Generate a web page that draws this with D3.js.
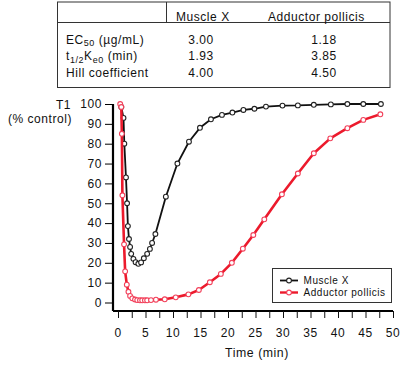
<!DOCTYPE html>
<html>
<head>
<meta charset="utf-8">
<script src="https://cdn.jsdelivr.net/npm/d3@7"></script>
<style>
  body { margin: 0; background: #fff; }
  svg { font-family: "Liberation Sans", Arial, sans-serif; }
  svg text { letter-spacing: 0.55px; fill: #111; }
</style>
</head>
<body>
<div id="chart"></div>
<script>
// dati
const muscleTime  = [0.6, 1.0, 1.15, 1.45, 1.65, 1.8, 2.0, 2.2, 2.4, 2.8, 3.2, 3.7, 4.2, 4.7, 5.3, 5.8, 6.2, 6.8, 8.7, 10.8, 12.9, 14.9, 16.9, 18.9, 20.8, 22.8, 24.8, 26.9, 29.9, 32.7, 35.6, 38.7, 41.7, 44.6, 47.8];
const muscleValue = [98.5, 93, 80, 63, 50, 38.5, 32, 28, 24.5, 22, 20.3, 19.5, 20.2, 22.3, 24.5, 27, 30, 34.5, 53.3, 70, 81, 88, 92.3, 94.5, 95.7, 97, 97.6, 98.7, 99.2, 99.3, 99.6, 99.8, 100, 100, 100];
const adductorTime  = [0.4, 0.6, 0.7, 0.8, 1.1, 1.3, 1.6, 1.9, 2.2, 2.6, 3.1, 3.5, 4.0, 4.4, 4.9, 5.3, 6.0, 6.9, 8.5, 10.5, 12.8, 14.7, 16.7, 18.7, 20.7, 22.7, 24.6, 26.6, 29.8, 32.7, 35.6, 38.6, 41.7, 44.6, 47.7];
const adductorValue = [100, 98.5, 85, 54, 29.3, 15.7, 9, 5.4, 3.3, 2.1, 1.5, 1.2, 1.1, 1.1, 1.1, 1.1, 1.2, 1.4, 1.6, 2.6, 4.1, 6.3, 10.2, 14.4, 20, 27.1, 34, 41.9, 54.5, 65, 75.2, 82.7, 87.8, 92, 94.8];

const xTicks = d3.range(0, 50.01, 2.5);
const xLabels = [0, 5, 10, 15, 20, 25, 30, 35, 40, 45, 50];
const yLabels = [0, 10, 20, 30, 40, 50, 60, 70, 80, 90, 100];

const tableHeader = ["Muscle X", "Adductor pollicis"];
const tableRows = [
  { name: [["EC", false], ["50", true], [" (\u00b5g/mL)", false]], vals: ["3.00", "1.18"] },
  { name: [["t", false], ["1/2", true], ["K", false], ["e0", true], [" (min)", false]], vals: ["1.93", "3.85"] },
  { name: [["Hill coefficient", false]], vals: ["4.00", "4.50"] }
];

const seriesNames = ["Muscle X", "Adductor pollicis"];
const seriesColors = ["#111", "#ec1a2c"];
const markerColors = ["#222", "#f2405a"];

const width = 406, height = 366;
const svg = d3.select("#chart").append("svg")
  .attr("width", width).attr("height", height);

// scale
const x = d3.scaleLinear().domain([0, 50]).range([118, 393]);
const y = d3.scaleLinear().domain([0, 100]).range([302.5, 104]);

// assi (staccati dall'area dati)
const xAxis = svg.append("g")
  .attr("transform", "translate(0,311)")
  .call(d3.axisBottom(x).tickValues(xTicks).tickSize(7).tickFormat(""));
xAxis.select(".domain").attr("d", `M113,0H${x(50)}`).attr("stroke-width", 2.2);
xAxis.selectAll(".tick line").attr("stroke-width", 1).attr("stroke", "#111");

svg.append("g").selectAll("text")
  .data(xLabels).join("text")
  .attr("x", d => x(d)).attr("y", 337)
  .attr("text-anchor", "middle")
  .attr("font-size", 12).text(d => d);

const yAxis = svg.append("g")
  .attr("transform", "translate(113,0)")
  .call(d3.axisLeft(y).tickValues(yLabels).tickSize(8).tickPadding(3));
yAxis.select(".domain").attr("d", `M0,${y(100)}V311`).attr("stroke-width", 2.2);
yAxis.selectAll(".tick line").attr("stroke-width", 1);
yAxis.selectAll(".tick text").attr("font-size", 12)
  .attr("font-family", "Liberation Sans, Arial, sans-serif");

svg.append("text").attr("x", 71).attr("y", 108.5)
  .attr("text-anchor", "end").attr("font-size", 12).text("T1");
svg.append("text").attr("x", 72).attr("y", 122.5)
  .attr("text-anchor", "end").attr("font-size", 12).text("(% control)");
svg.append("text").attr("x", 257).attr("y", 357)
  .attr("text-anchor", "middle").attr("font-size", 12.3).text("Time (min)");

// serie
const series = [
  d3.zip(muscleTime, muscleValue),
  d3.zip(adductorTime, adductorValue)
];
const line = d3.line().x(d => x(d[0])).y(d => y(d[1]));

series.forEach((pts, i) => {
  const g = svg.append("g");
  g.append("path")
    .datum(pts)
    .attr("fill", "none")
    .attr("stroke", seriesColors[i])
    .attr("stroke-width", i === 0 ? 1.8 : 2.6)
    .attr("stroke-linejoin", "round")
    .attr("d", line);
  g.selectAll("circle")
    .data(pts).join("circle")
    .attr("cx", d => x(d[0])).attr("cy", d => y(d[1]))
    .attr("r", 2.4)
    .attr("fill", "#fff")
    .attr("stroke", markerColors[i])
    .attr("stroke-width", 1.1);
});

// legenda
const legend = svg.append("g");
legend.append("rect")
  .attr("x", 272.5).attr("y", 268.5).attr("width", 119).attr("height", 34)
  .attr("fill", "#fff").attr("stroke", "#333").attr("stroke-width", 1);
seriesNames.forEach((name, i) => {
  const ly = 280.5 + i * 12;
  legend.append("line")
    .attr("x1", 280).attr("x2", 298).attr("y1", ly).attr("y2", ly)
    .attr("stroke", seriesColors[i]).attr("stroke-width", i === 0 ? 1.8 : 2.4);
  legend.append("circle")
    .attr("cx", 289).attr("cy", ly).attr("r", 2.4)
    .attr("fill", "#fff").attr("stroke", markerColors[i]).attr("stroke-width", 1.1);
  legend.append("text")
    .attr("x", 303.5).attr("y", ly + 3.6)
    .attr("font-size", 10).text(name);
});

// tabella
const table = svg.append("g");
table.append("rect")
  .attr("x", 57.5).attr("y", 2).attr("width", 332.5).attr("height", 85.5)
  .attr("fill", "none").attr("stroke", "#333").attr("stroke-width", 1);
table.append("line")
  .attr("x1", 57.5).attr("x2", 390).attr("y1", 22.5).attr("y2", 22.5)
  .attr("stroke", "#333");
table.append("line")
  .attr("x1", 166.5).attr("x2", 166.5).attr("y1", 2).attr("y2", 22.5)
  .attr("stroke", "#333");

const headerX = [176, 268];
const valueX = [201, 324];
tableHeader.forEach((h, i) => {
  table.append("text").attr("x", headerX[i]).attr("y", 20.5)
    .attr("font-size", 12).text(h);
});
tableRows.forEach((row, r) => {
  const by = 43.5 + r * 16.9;
  const t = table.append("text").attr("x", 66).attr("y", by).attr("font-size", 12);
  row.name.forEach(([s, sub]) => {
    const ts = t.append("tspan")
      .attr("font-size", sub ? 9 : 12)
      .text(s);
    if (sub) ts.attr("y", by + 2.5); else ts.attr("y", by);
  });
  row.vals.forEach((v, i) => {
    table.append("text").attr("x", valueX[i]).attr("y", by)
      .attr("text-anchor", "middle").attr("font-size", 12).text(v);
  });
});
</script>
</body>
</html>
